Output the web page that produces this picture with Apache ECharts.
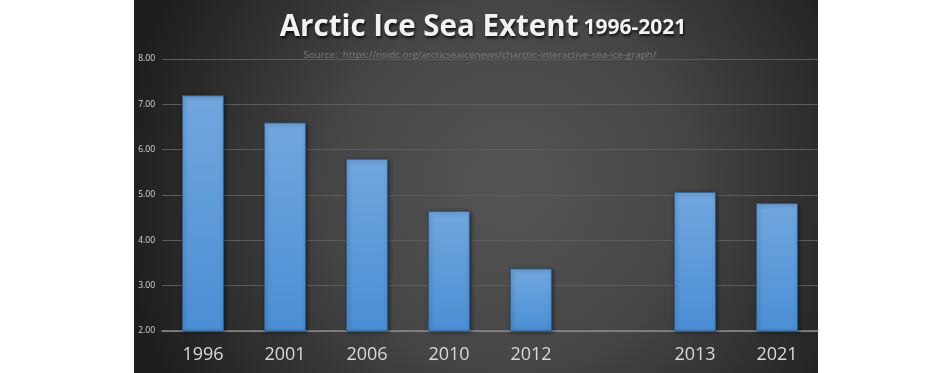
<!DOCTYPE html>
<html>
<head>
<meta charset="utf-8">
<script src="https://cdn.jsdelivr.net/npm/echarts@6/dist/echarts.min.js"></script>
<style>
html,body{margin:0;padding:0;background:#ffffff;}
#chart{width:952px;height:373px;}
</style>
</head>
<body>
<div id="chart"></div>
<script>
var categories = ['1996', '2001', '2006', '2010', '2012', '', '2013', '2021'];
var extentValues = [7.2, 6.6, 5.8, 4.65, 3.38, null, 5.07, 4.82];
var yTicks = { min: 2, max: 8, interval: 1 };
var titleMain = 'Arctic Ice Sea Extent';
var titleYears = '1996-2021';
var sourceText = 'Source:  https://nsidc.org/arcticseaicenews/charctic-interactive-sea-ice-graph/';

var chart = echarts.init(document.getElementById('chart'), null, { renderer: 'canvas' });
var option = {
  backgroundColor: '#ffffff',
  animation: false,
  graphic: [{
    type: 'rect',
    z: -10,
    silent: true,
    shape: { x: 134, y: 0, width: 684, height: 373 },
    style: {
      fill: {
        type: 'radial', x: 0.55, y: 0.5, r: 1.05,
        colorStops: [
          { offset: 0, color: '#555555' },
          { offset: 0.45, color: '#464646' },
          { offset: 1, color: '#1e1e1e' }
        ]
      }
    }
  }],
  title: [{
    text: '{a|' + titleMain + '} {b|' + titleYears + '}',
    left: 478, top: 8, textAlign: 'center',
    textStyle: {
      rich: {
        a: { fontFamily: 'Open Sans', fontWeight: 'bold', fontSize: 29.5, color: '#f2f2f2',
             textShadowColor: 'rgba(0,0,0,0.8)', textShadowBlur: 3, textShadowOffsetX: 1, textShadowOffsetY: 2 },
        b: { fontFamily: 'Open Sans', fontWeight: 'bold', fontSize: 21, color: '#f2f2f2',
             textShadowColor: 'rgba(0,0,0,0.8)', textShadowBlur: 3, textShadowOffsetX: 1, textShadowOffsetY: 2 }
      }
    }
  }, {
    text: sourceText,
    left: 475, top: 45, textAlign: 'center',
    textStyle: { fontFamily: 'Open Sans', fontWeight: 'normal', fontSize: 9.8, color: '#7c7c7c' }
  }],
  grid: { left: 162, right: 134, top: 59, bottom: 42, containLabel: false },
  xAxis: {
    type: 'category',
    data: categories,
    axisLine: { show: true, lineStyle: { color: '#8c8c8c', width: 1.5 } },
    axisTick: { show: false },
    axisLabel: { color: '#d9d9d9', fontFamily: 'Open Sans', fontSize: 18, margin: 15, interval: 0 },
    splitLine: { show: false }
  },
  yAxis: {
    type: 'value',
    min: yTicks.min, max: yTicks.max, interval: yTicks.interval,
    axisLine: { show: false },
    axisTick: { show: false },
    axisLabel: { color: '#d9d9d9', fontFamily: 'Open Sans', fontSize: 8.5, margin: 7,
                 formatter: function (v) { return v.toFixed(2); } },
    splitLine: { lineStyle: { color: '#5c5c5c', width: 1 } }
  },
  series: [{
    type: 'bar',
    data: extentValues,
    barWidth: 42,
    itemStyle: {
      color: {
        type: 'linear', x: 0, y: 0, x2: 0, y2: 1,
        colorStops: [{ offset: 0, color: '#72a7df' }, { offset: 1, color: '#4a8ed4' }]
      },
      borderColor: '#2e5c8c',
      borderWidth: 1,
      shadowColor: 'rgba(0,0,0,0.45)',
      shadowBlur: 4,
      shadowOffsetX: 1,
      shadowOffsetY: 1
    }
  }]
};
chart.setOption(option);
</script>
</body>
</html>
